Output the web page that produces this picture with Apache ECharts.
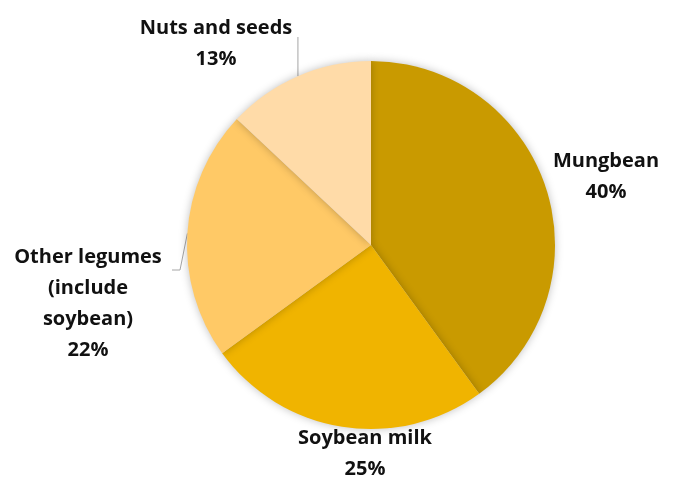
<!DOCTYPE html>
<html>
<head>
<meta charset="utf-8">
<script src="https://cdn.jsdelivr.net/npm/echarts@6/dist/echarts.min.js"></script>
<style>
  html, body { margin: 0; padding: 0; background: #ffffff; }
  #chart { width: 678px; height: 478px; }
</style>
</head>
<body>
<div id="chart"></div>
<script>
// Share of intake by source (percent)
const categories = ['Mungbean', 'Soybean milk', 'Other legumes\n(include\nsoybean)', 'Nuts and seeds'];
const shares = [40, 25, 22, 13];
const colors = ['#C99A00', '#F0B400', '#FFC966', '#FFDBA8'];

// Where each label block sits (centre of the text block)
const labelSpots = [
  { x: 606, y: 177 },
  { x: 365, y: 454 },
  { x: 88, y: 304 },
  { x: 216, y: 44 }
];
const showLine = [false, false, true, true];

// Leader lines: start on the slice edge given by the library, then bend toward the label
function leader(p) {
  const start = p.labelLinePoints ? p.labelLinePoints[0] : null;
  if (!start) return undefined;
  if (p.dataIndex === 3) {
    return [start, [start[0], 37]];
  }
  if (p.dataIndex === 2) {
    return [start, [180, 270], [172, 270]];
  }
  return undefined;
}

const chart = echarts.init(document.getElementById('chart'), null, { renderer: 'canvas' });

chart.setOption({
  animation: false,
  backgroundColor: '#ffffff',
  series: [{
    type: 'pie',
    center: [371, 245],
    radius: [0, 184],
    startAngle: 90,
    clockwise: true,
    avoidLabelOverlap: false,
    itemStyle: {
      borderWidth: 0,
      shadowBlur: 8,
      shadowColor: 'rgba(0,0,0,0.25)'
    },
    label: {
      show: true,
      position: 'outside',
      formatter: p => p.name + '\n' + p.value + '%',
      fontFamily: '"Open Sans", Lato, sans-serif',
      fontWeight: 'bold',
      fontSize: 20,
      lineHeight: 31,
      color: '#111111',
      align: 'center'
    },
    labelLine: {
      show: true,
      length: 10,
      length2: 10,
      smooth: false,
      lineStyle: { color: '#a6a6a6', width: 1 }
    },
    labelLayout: p => {
      const spot = labelSpots[p.dataIndex];
      const out = {
        x: spot.x,
        y: spot.y,
        align: 'center',
        verticalAlign: 'middle'
      };
      const pts = leader(p);
      if (pts) out.labelLinePoints = pts;
      return out;
    },
    data: categories.map((name, i) => ({
      name: name,
      value: shares[i],
      itemStyle: { color: colors[i] },
      labelLine: { show: showLine[i] }
    }))
  }]
});
</script>
</body>
</html>
